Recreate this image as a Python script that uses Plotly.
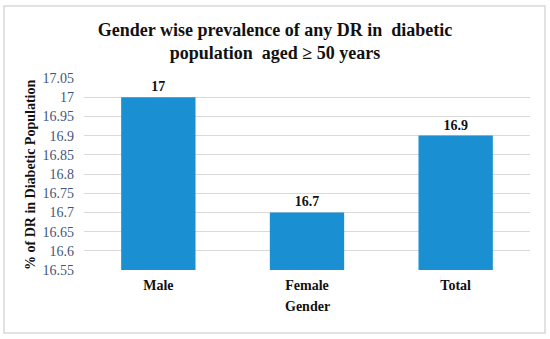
import plotly.graph_objects as go

categories = ["Male", "Female", "Total"]
values = [17, 16.7, 16.9]
value_labels = ["17", "16.7", "16.9"]
y_tickvals = [16.55, 16.6, 16.65, 16.7, 16.75, 16.8, 16.85, 16.9, 16.95, 17, 17.05]
y_ticktext = ["16.55", "16.6", "16.65", "16.7", "16.75", "16.8", "16.85", "16.9", "16.95", "17", "17.05"]

serif = "Liberation Serif"

fig = go.Figure(go.Bar(
    x=categories, y=values, text=value_labels,
    texttemplate="<b>%{text}</b>", textposition="outside",
    textfont=dict(family=serif, size=14, color="#111111"),
    marker=dict(color="#1A90D3", line=dict(width=0)),
    cliponaxis=False,
))

fig.update_layout(
    width=550, height=339,
    margin=dict(l=84, r=20, t=78, b=69),
    paper_bgcolor="white", plot_bgcolor="white",
    bargap=0.5,
    showlegend=False,
    font=dict(family=serif, size=14),
    title=dict(
        text="<b>Gender wise prevalence of any DR in  diabetic<br>population  aged \u2265 50 years</b>",
        x=(275 - 84) / 446, xref="paper", xanchor="center",
        y=1 - 36 / 339, yref="container", yanchor="middle",
        font=dict(family=serif, size=18, color="#111111"),
    ),
    xaxis=dict(
        tickfont=dict(family=serif, size=14, color="#111111"),
        showgrid=False, showline=False, ticks="",
        tickprefix="<b>", ticksuffix="</b>",
        ticklabelstandoff=5,
    ),
    yaxis=dict(
        range=[16.55, 17.05],
        tickmode="array",
        tickvals=y_tickvals, ticktext=y_ticktext,
        tickprefix="<span style='font-family:Liberation Serif'>", ticksuffix="</span>",
        tickfont=dict(family=serif, size=14, color="#3F5677"),
        showgrid=True, gridcolor="#D9D9D9", gridwidth=1,
        zeroline=False, showline=False, ticks="",
        ticklabelstandoff=9,
    ),
    annotations=[
        dict(text="<b>% of DR in Diabetic Population</b>", textangle=-90,
             xref="paper", yref="paper", x=(31 - 84) / 446, y=0.495,
             xanchor="center", yanchor="middle", showarrow=False,
             font=dict(family=serif, size=14, color="#111111")),
        dict(text="<b>Gender</b>",
             xref="paper", yref="paper", x=0.5, y=(270 - 306) / 192,
             xanchor="center", yanchor="middle", showarrow=False,
             font=dict(family=serif, size=14, color="#111111")),
    ],
    shapes=[
        dict(type="rect", xref="paper", yref="paper",
             x0=(4 - 84) / 446, x1=(545 - 84) / 446,
             y0=(270 - 333) / 192, y1=(270 - 6) / 192,
             line=dict(color="#D9D9D9", width=1.5), fillcolor="rgba(0,0,0,0)",
             layer="below"),
    ],
)

fig.write_html("out.html", config={"displayModeBar": False},
               post_script="document.body.style.margin='0';")
